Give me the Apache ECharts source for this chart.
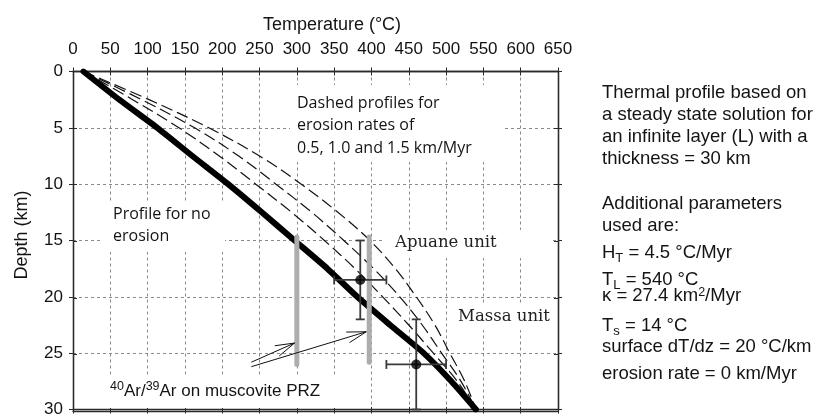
<!DOCTYPE html>
<html><head><meta charset="utf-8">
<script src="https://cdn.jsdelivr.net/npm/echarts@6/dist/echarts.min.js"></script>
<style>html,body{margin:0;padding:0;background:#fff}#c{width:815px;height:418px}</style>
</head><body><div id="c"></div>
<script>
// ---------- data ----------
const depthKm = [0, 2.5, 5, 7.5, 10, 12.5, 15, 17.5, 20, 22.5, 25, 27.5, 30];
const profileNoErosion = [14, 62, 113, 160, 208, 253, 297, 341, 381, 425, 470, 507, 540];
const profileErosion05 = [14, 80, 142, 196, 245, 293, 337, 378, 415, 450, 483, 515, 540];
const profileErosion10 = [14, 92, 163, 222, 272, 320, 363, 403, 438, 468, 494, 520, 540];
const profileErosion15 = [14, 102, 182, 250, 306, 355, 398, 432, 460, 485, 505, 525, 540];

const przTemp = [300, 397];
const przTopDepth = [14.7, 14.7];
const przBottomDepth = [26.0, 25.8];

const unitNames = ['Apuane unit', 'Massa unit'];
const unitTemp = [385, 460];
const unitTempMin = [350, 420];
const unitTempMax = [420, 500];
const unitDepth = [18.5, 26.0];
const unitDepthMin = [15.0, 22.0];
const unitDepthMax = [22.0, 30.0];

const arrowTailTemp = [239, 239];
const arrowTailDepth = [25.8, 26.2];
const arrowTipTemp = [297, 393];
const arrowTipDepth = [24.1, 23.1];

const tempMin = 0, tempMax = 650, tempStep = 50;
const depthMin = 0, depthMax = 30, depthStep = 5;

// ---------- helpers ----------
const SANS = '"Liberation Sans", Arial, Helvetica, sans-serif';
const pair = (xs, ys) => xs.map((x, i) => [x, ys[i]]);
const axisColor = '#2a2a2a';

function xAx(gridIndex, position, inside, labels, split) {
  return {
    type: 'value', gridIndex, position, min: tempMin, max: tempMax, interval: tempStep,
    axisLine: { show: true, onZero: false, lineStyle: { color: axisColor, width: 1.3 } },
    axisTick: { show: true, inside, length: 4, lineStyle: { color: axisColor, width: 1 } },
    axisLabel: { show: labels, fontSize: 17, color: '#111', margin: 14, fontFamily: SANS },
    splitLine: { show: split, lineStyle: { color: '#8a8a8a', type: [3, 3], width: 1 } }
  };
}
function yAx(gridIndex, position, inside, labels, split) {
  return {
    type: 'value', gridIndex, position, inverse: true, min: depthMin, max: depthMax, interval: depthStep,
    axisLine: { show: true, onZero: false, lineStyle: { color: axisColor, width: 1.3 } },
    axisTick: { show: true, inside, length: 4, lineStyle: { color: axisColor, width: 1 } },
    axisLabel: { show: labels, fontSize: 17, color: '#111', margin: 10, fontFamily: SANS },
    splitLine: { show: split, lineStyle: { color: '#8a8a8a', type: [3, 3], width: 1 } }
  };
}

function dashedProfile(values) {
  return {
    type: 'line', xAxisIndex: 0, yAxisIndex: 0, data: pair(values, depthKm),
    showSymbol: false, symbol: 'none', smooth: 0.35, z: 3,
    lineStyle: { color: '#111', width: 1.2, type: [12, 5] }
  };
}

const errData = unitTemp.map((t, i) => [t, unitDepth[i], unitTempMin[i], unitTempMax[i], unitDepthMin[i], unitDepthMax[i]]);
const arrowData = arrowTailTemp.map((t, i) => [t, arrowTailDepth[i], arrowTipTemp[i], arrowTipDepth[i]]);

function renderErr(params, api) {
  const c = api.coord([api.value(0), api.value(1)]);
  const xl = api.coord([api.value(2), api.value(1)])[0];
  const xr = api.coord([api.value(3), api.value(1)])[0];
  const yt = api.coord([api.value(0), api.value(4)])[1];
  const yb = api.coord([api.value(0), api.value(5)])[1];
  const cap = 4.5;
  const st = { stroke: '#3a3a3a', lineWidth: 1.8, fill: null };
  const L = (x1, y1, x2, y2) => ({ type: 'line', shape: { x1, y1, x2, y2 }, style: st });
  return {
    type: 'group', children: [
      L(xl, c[1], xr, c[1]), L(c[0], yt, c[0], yb),
      L(xl, c[1] - cap, xl, c[1] + cap), L(xr, c[1] - cap, xr, c[1] + cap),
      L(c[0] - cap, yt, c[0] + cap, yt), L(c[0] - cap, yb, c[0] + cap, yb)
    ]
  };
}
function renderArrow(params, api) {
  const p0 = api.coord([api.value(0), api.value(1)]);
  const p1 = api.coord([api.value(2), api.value(3)]);
  const ang = Math.atan2(p1[1] - p0[1], p1[0] - p0[0]);
  const len = 20, a = 0.28;
  const h1 = [p1[0] - len * Math.cos(ang - a), p1[1] - len * Math.sin(ang - a)];
  const h2 = [p1[0] - len * Math.cos(ang + a), p1[1] - len * Math.sin(ang + a)];
  const st = { stroke: '#111', lineWidth: 1, fill: null };
  return {
    type: 'group', children: [
      { type: 'polyline', shape: { points: [p0, p1] }, style: st },
      { type: 'polyline', shape: { points: [h1, p1, h2] }, style: st }
    ]
  };
}

// ---------- annotations ----------
const txt = (x, y, text, extra) => ({
  type: 'text', x, y, z: 5,
  style: Object.assign({ text, fill: '#141414', font: '18.5px ' + SANS, verticalAlign: 'middle', align: 'left' }, extra || {})
});
const mask = (x, y, w, h) => ({ type: 'rect', shape: { x, y, width: w, height: h }, style: { fill: '#fff' }, z: 1, silent: true });
const subRich = { sub: { fontSize: 13, lineHeight: 13, verticalAlign: 'bottom', fontFamily: SANS }, sup: { fontSize: 12.5, lineHeight: 12, verticalAlign: 'top', fontFamily: SANS } };
const richTxt = (x, y, text, lh) => txt(x, y, text, { font: null, fontSize: 18.5, fontFamily: SANS, lineHeight: lh || 24, rich: subRich });

const graphics = [
  mask(103, 203, 122, 49),
  mask(290, 85, 215, 77),
  mask(385, 230, 167, 28),
  mask(450, 305, 102, 25),
  mask(100, 376, 245, 32),
  txt(332, 25, 'Temperature (°C)', { align: 'center', font: '18px ' + SANS }),
  { type: 'text', x: 22.5, y: 235, rotation: Math.PI / 2, z: 5,
    style: { text: 'Depth (km)', fill: '#141414', font: '18px ' + SANS, align: 'center', verticalAlign: 'middle' } },
  txt(297, 103, 'Dashed profiles for', { font: '16px "Open Sans", sans-serif' }),
  txt(297, 125.5, 'erosion rates of', { font: '16px "Open Sans", sans-serif' }),
  txt(297, 148.5, '0.5, 1.0 and 1.5 km/Myr', { font: '16px "Open Sans", sans-serif' }),
  txt(113, 214.5, 'Profile for no', { font: '16px "Open Sans", sans-serif' }),
  txt(113, 236.5, 'erosion', { font: '16px "Open Sans", sans-serif' }),
  txt(395, 243, unitNames[0], { font: '16.5px "DejaVu Serif", serif', fill: '#222' }),
  txt(458, 317, unitNames[1], { font: '16.5px "DejaVu Serif", serif', fill: '#222' }),
  txt(110, 391, '{sup|40}Ar/{sup|39}Ar on muscovite PRZ', { font: null, fontSize: 17, fontFamily: SANS, lineHeight: 22, rich: subRich }),
  txt(602, 93, 'Thermal profile based on'),
  txt(602, 115, 'a steady state solution for'),
  txt(602, 137, 'an infinite layer (L) with a'),
  txt(602, 159, 'thickness = 30 km'),
  txt(602, 203.5, 'Additional parameters'),
  txt(602, 226, 'used are:'),
  richTxt(602, 253, 'H{sub|T} = 4.5 °C/Myr'),
  richTxt(602, 279.5, 'T{sub|L} = 540 °C'),
  richTxt(602, 296, 'κ = 27.4 km{sup|2}/Myr', 19),
  richTxt(602, 326, 'T{sub|s} = 14 °C'),
  txt(602, 346.5, 'surface dT/dz = 20 °C/km'),
  txt(602, 373.5, 'erosion rate = 0 km/Myr')
];

const gridRect = { left: 73, right: 257, top: 71.5, bottom: 7 };

const option = {
  backgroundColor: '#fff',
  animation: false,
  grid: [Object.assign({}, gridRect), Object.assign({}, gridRect)],
  xAxis: [xAx(0, 'top', false, true, true), xAx(0, 'bottom', false, false, false), xAx(1, 'top', true, false, false), xAx(1, 'bottom', true, false, false)],
  yAxis: [yAx(0, 'left', false, true, true), yAx(0, 'right', false, false, false), yAx(1, 'left', true, false, false), yAx(1, 'right', true, false, false)],
  series: [
    dashedProfile(profileErosion05),
    dashedProfile(profileErosion10),
    dashedProfile(profileErosion15),
    {
      type: 'line', xAxisIndex: 0, yAxisIndex: 0, data: pair(profileNoErosion, depthKm),
      showSymbol: false, symbol: 'none', smooth: 0.2, z: 4,
      lineStyle: { color: '#000', width: 6, cap: 'round', join: 'round' }
    },
    ...przTemp.map((t, i) => ({
      type: 'line', xAxisIndex: 0, yAxisIndex: 0, data: [[t, przTopDepth[i]], [t, przBottomDepth[i]]],
      showSymbol: false, symbol: 'none', z: 5,
      lineStyle: { color: '#adadad', width: 5, cap: 'round' }
    })),
    { type: 'custom', xAxisIndex: 0, yAxisIndex: 0, data: errData, renderItem: renderErr, z: 6, encode: { x: 0, y: 1 } },
    { type: 'scatter', xAxisIndex: 0, yAxisIndex: 0, data: pair(unitTemp, unitDepth), symbolSize: 10, itemStyle: { color: '#000' }, z: 7 },
    { type: 'custom', xAxisIndex: 0, yAxisIndex: 0, data: arrowData, renderItem: renderArrow, z: 7, encode: { x: 0, y: 1 } }
  ],
  graphic: graphics
};

const chart = echarts.init(document.getElementById('c'), null, { renderer: 'canvas' });
chart.setOption(option);
</script></body></html>
